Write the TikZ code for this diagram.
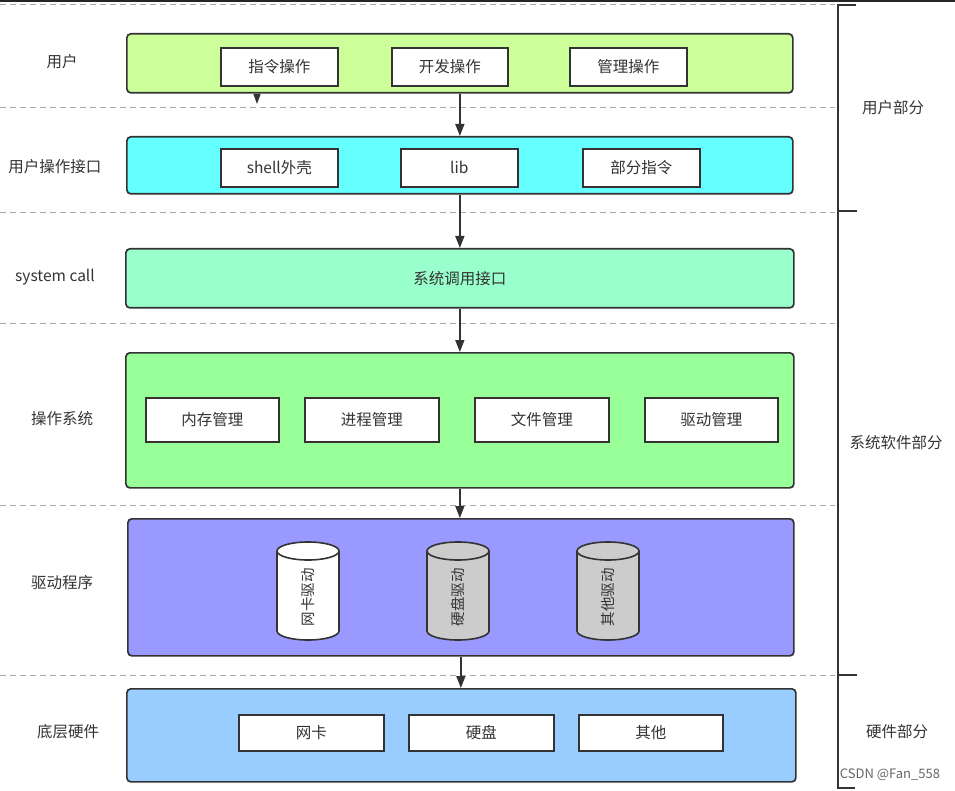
\documentclass[tikz,border=0pt]{standalone}
\usepackage{fontspec}
\setmainfont{Noto Sans CJK SC}
\usetikzlibrary{arrows.meta}
\definecolor{txt}{HTML}{333333}
\definecolor{edge}{HTML}{333333}
\definecolor{cA}{HTML}{CCFF99}
\definecolor{cB}{HTML}{66FFFF}
\definecolor{cC}{HTML}{99FFCC}
\definecolor{cD}{HTML}{99FF99}
\definecolor{cE}{HTML}{9999FF}
\definecolor{cF}{HTML}{99CCFF}
\definecolor{cyl}{HTML}{CCCCCC}
\definecolor{dash}{HTML}{AAAAAA}
\tikzset{
  layer/.style={draw=edge, line width=1.7pt, rounded corners=4pt, anchor=north west, inner sep=0pt},
  item/.style={draw=edge, line width=1.6pt, fill=white, anchor=north west, inner sep=0pt, font=\fontsize{15.5}{17}\selectfont, text=txt},
  lab/.style={font=\fontsize{15.5}{17}\selectfont, text=txt},
  sep/.style={draw=dash, line width=1pt, dash pattern=on 6pt off 4pt},
  arr/.style={draw=edge, line width=1.5pt, -{Triangle[length=12pt,width=9pt]}},
  brk/.style={draw=edge, line width=2pt},
}
\begin{document}
\begin{tikzpicture}[x=1pt,y=-1pt]
\useasboundingbox (0,0) rectangle (955,791);
\fill[black!85] (0,0) rectangle (955,2.5);
% dashed separators
\foreach \yy in {5,108,213,324,505,675} \draw[sep] (0,\yy) -- (835,\yy);
% bracket
\draw[brk] (856,5) -- (838,5) -- (838,788) -- (855,788);
\draw[brk] (838,211) -- (857,211);
\draw[brk] (838,675) -- (857,675);
\node[lab] (p1) at (893,108) {用户部分};
\node[lab] (p2) at (896,443) {系统软件部分};
\node[lab] (p3) at (897,732) {硬件部分};
\node[font=\fontsize{13}{15}\selectfont, text=black!60] (wm) at (890,775) {CSDN @Fan\_558};
% left labels
\node[lab] (l1) at (62,62) {用户};
\node[lab] (l2) at (55,167) {用户操作接口};
\node[lab] (l3) at (55,277) {system call};
\node[lab] (l4) at (62,419) {操作系统};
\node[lab] (l5) at (62,583) {驱动程序};
\node[lab] (l6) at (68,732) {底层硬件};
% layer 1
\node[layer, fill=cA, minimum width=666pt, minimum height=59pt] (b1) at (126,33) {};
\node[item, minimum width=117pt, minimum height=38pt] (u1) at (220,47) {指令操作};
\node[item, minimum width=116pt, minimum height=38pt] (u2) at (391,47) {开发操作};
\node[item, minimum width=117pt, minimum height=38pt] (u3) at (569,47) {管理操作};
% layer 2
\node[layer, fill=cB, minimum width=666pt, minimum height=57pt] (b2) at (126,136) {};
\node[item, minimum width=117pt, minimum height=38pt] (i1) at (220,148) {shell外壳};
\node[item, minimum width=117pt, minimum height=38pt] (i2) at (400,148) {lib};
\node[item, minimum width=117pt, minimum height=38pt] (i3) at (582,148) {部分指令};
% layer 3
\node[layer, fill=cC, minimum width=668pt, minimum height=59pt, font=\fontsize{15.5}{17}\selectfont, text=txt] (b3) at (125,248) {系统调用接口};
% layer 4
\node[layer, fill=cD, minimum width=668pt, minimum height=135pt] (b4) at (125,352) {};
\node[item, minimum width=133pt, minimum height=44pt] (o1) at (145,397) {内存管理};
\node[item, minimum width=134pt, minimum height=44pt] (o2) at (304,397) {进程管理};
\node[item, minimum width=134pt, minimum height=44pt] (o3) at (474,397) {文件管理};
\node[item, minimum width=133pt, minimum height=44pt] (o4) at (644,397) {驱动管理};
% layer 5
\node[layer, fill=cE, minimum width=666pt, minimum height=137pt] (b5) at (127,518) {};
\foreach \cx/\cf/\nm/\tx in {308/white/d1/网卡驱动, 458/cyl/d2/硬盘驱动, 608/cyl/d3/其他驱动}{
  \filldraw[draw=edge, fill=\cf, line width=1.6pt]
    (\cx-31,551) -- (\cx-31,631) arc[start angle=180, end angle=0, x radius=31, y radius=9]
    -- (\cx+31,551) arc[start angle=0, end angle=-180, x radius=31, y radius=9] -- cycle;
  \draw[draw=edge, line width=1.6pt] (\cx-31,551) arc[start angle=180, end angle=0, x radius=31, y radius=9];
  \node[lab, rotate=90, font=\fontsize{14.5}{16}\selectfont] (\nm) at (\cx,597) {\tx};
}
% layer 6
\node[layer, fill=cF, minimum width=669pt, minimum height=93pt] (b6) at (126,688) {};
\node[item, minimum width=145pt, minimum height=36pt] (h1) at (238,714) {网卡};
\node[item, minimum width=145pt, minimum height=36pt] (h2) at (408,714) {硬盘};
\node[item, minimum width=144pt, minimum height=36pt] (h3) at (578,714) {其他};
% arrows
\draw[arr] (b1.south) -- (b2.north);
\draw[arr] (b2.south) -- (b3.north);
\draw[arr] (b3.south) -- (b4.north);
\draw[arr] (b4.south) -- (b4.south |- b5.north);
\draw[arr] (b5.south) -- (b5.south |- b6.north);
\coordinate (t1) at (257,104);
\draw[draw=edge, line width=1.2pt, -{Triangle[length=10pt,width=7pt]}] (t1 |- b1.south) -- (t1);
\end{tikzpicture}
\end{document}
